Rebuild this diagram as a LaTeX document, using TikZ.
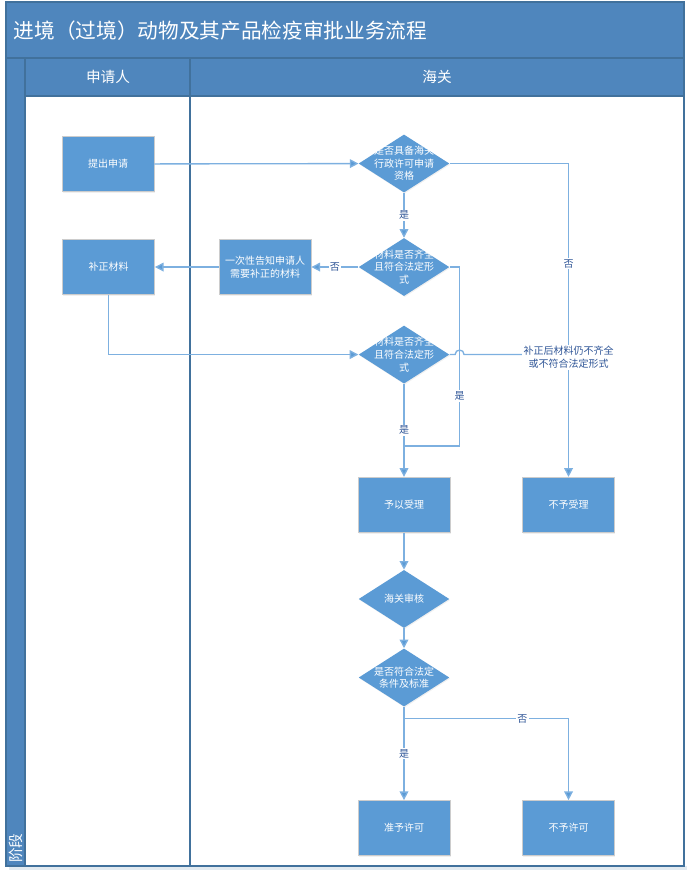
\documentclass[tikz,border=0pt]{standalone}
\usepackage{fontspec}
\newfontfamily\cjk{Noto Sans CJK SC}
\usetikzlibrary{shapes.geometric, arrows.meta, positioning, calc, shadows}
\definecolor{headblue}{RGB}{79,134,189}
\definecolor{framedark}{RGB}{65,113,156}
\definecolor{nodeblue}{RGB}{91,155,213}
\definecolor{linkblue}{RGB}{125,176,224}
\definecolor{labelblue}{RGB}{47,85,151}
\tikzset{
  proc/.style={rectangle, draw=black!20, fill=nodeblue, text=white, minimum width=69pt, minimum height=41.5pt, align=center, font=\cjk\fontsize{7.5}{10}\selectfont, drop shadow={opacity=0.12, shadow xshift=0.6pt, shadow yshift=-0.8pt}},
  decide/.style={diamond, fill=nodeblue, minimum width=68pt, minimum height=43.5pt, inner sep=0pt, drop shadow={opacity=0.12, shadow xshift=0.6pt, shadow yshift=-0.8pt}},
  dtext/.style={text=white, align=center, inner sep=0pt, font=\cjk\fontsize{7.5}{9.5}\selectfont},
  link/.style={line width=1pt, draw=linkblue},
  arr/.style={link, -{Triangle[length=6.5pt, width=6.5pt, fill=nodeblue]}},
  yn/.style={fill=white, text=labelblue, inner sep=1pt, font=\cjk\fontsize{7.5}{8}\selectfont},
  note/.style={fill=white, text=labelblue, align=center, inner sep=1pt, font=\cjk\fontsize{7.5}{9.5}\selectfont},
  band/.style={fill=headblue, draw=framedark, line width=0.8pt},
}

\begin{document}
\begin{tikzpicture}[x=0.75pt, y=-0.75pt]
  \useasboundingbox (0,0) rectangle (691,875);
  % swimlane frame
  \fill[framedark!15] (9,866) rectangle (687,870);
  \draw[band] (6,2) rectangle (684,58);
  \draw[band] (25,58) rectangle (684,96);
  \draw[band] (6,58) rectangle (25,866);
  \draw[framedark, line width=0.8pt] (6,2) rectangle (684,866);
  \draw[framedark, line width=1pt] (190,58) -- (190,866);
  \draw[framedark, line width=0.8pt] (25,96) -- (25,866);
  \node[anchor=west, text=white, font=\cjk\fontsize{15.5}{18}\selectfont] (title) at (9,31) {进境（过境）动物及其产品检疫审批业务流程};
  \node[text=white, font=\cjk\fontsize{11}{13}\selectfont] (lane1) at (108,77) {申请人};
  \node[text=white, font=\cjk\fontsize{11}{13}\selectfont] (lane2) at (437,77) {海关};
  \node[rotate=90, anchor=west, text=white, inner sep=0pt, font=\cjk\fontsize{11}{13}\selectfont] (stage) at (15.5,863) {阶段};

  % nodes
  \node[proc] (apply) at (108,164) {提出申请};
  \node[decide, label={[dtext]center:{是否具备海关\\行政许可申请\\资格}}] (qual) at (404,163.5) {};
  \node[decide, below=33.75pt of qual, label={[dtext]center:{材料是否齐全\\且符合法定形\\式}}] (check) {};
  \node[proc, left=35.25pt of check] (notify) {一次性告知申请人\\需要补正的材料};
  \node[proc, left=48pt of notify] (fix) {补正材料};
  \node[decide, below=21.75pt of check, label={[dtext]center:{材料是否齐全\\且符合法定形\\式}}] (recheck) {};
  \node[proc, below=69.75pt of recheck] (accept) {予以受理};
  \node[proc, right=54pt of accept] (reject) {不予受理};
  \node[decide, below=27.75pt of accept, label={[dtext]center:海关审核}] (review) {};
  \node[decide, below=15pt of review, label={[dtext]center:{是否符合法定\\条件及标准}}] (meet) {};
  \node[proc, below=70pt of meet] (grant) {准予许可};
  \node[proc, right=54pt of grant] (deny) {不予许可};
  \coordinate (merge) at ($(accept.north)+(0,-31)$);

  % connectors
  \draw[arr] (apply) -- (qual);
  \draw[arr] (qual) -- node[yn]{是} (check);
  \draw[arr] (qual.east) -| node[yn, pos=0.66]{否} (reject.north);
  \draw[arr] (check) -- node[yn]{否} (notify);
  \draw[arr] (notify) -- (fix);
  \draw[arr] (fix.south) |- (recheck.west);
  \draw[link] (check.east) -- ++(10,0) |- node[yn, pos=0.36]{是} (merge);
  \draw[arr] (recheck) -- node[yn]{是} (accept);
  \draw[link] (recheck.east) -- ++(5.5,0) .. controls +(0,-6) and +(0,-6) .. ++(9,0) -- node[note, pos=1, yshift=-2pt]{补正后材料仍不齐全\\或不符合法定形式} (reject.north |- recheck.east);
  \draw[arr] (accept) -- (review);
  \draw[arr] (review) -- (meet);
  \draw[arr] (meet) -- node[yn]{是} (grant);
  \draw[arr] (meet.south) -- ++(0,12) -| node[yn, pos=0.36]{否} (deny.north);
\end{tikzpicture}
\end{document}
